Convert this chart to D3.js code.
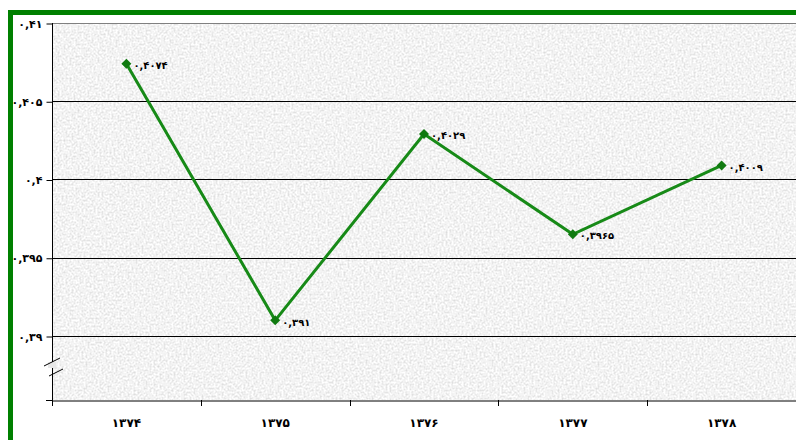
<!DOCTYPE html>
<html>
<head>
<meta charset="utf-8">
<script src="https://cdn.jsdelivr.net/npm/d3@7"></script>
<style>
  body { margin: 0; background: #fff; }
  svg { display: block; }
  text { font-family: "DejaVu Sans", Tahoma, sans-serif; font-weight: bold; fill: #000; }
</style>
</head>
<body>
<svg></svg>
<script>
let years = ['۱۳۷۴', '۱۳۷۵', '۱۳۷۶', '۱۳۷۷', '۱۳۷۸']
let values = [0.4074, 0.391, 0.4029, 0.3965, 0.4009]
let valueLabels = ['۰,۴۰۷۴', '۰,۳۹۱', '۰,۴۰۲۹', '۰,۳۹۶۵', '۰,۴۰۰۹']
let yTicks = [0.39, 0.395, 0.4, 0.405, 0.41]
let yTickLabels = ['۰,۳۹', '۰,۳۹۵', '۰,۴', '۰,۴۰۵', '۰,۴۱']

let width = 796
let height = 440
let plotLeft = 52
let plotRight = 796
let plotTop = 23
let plotBottom = 400
let lowest = 336   // where 0.39 sits, the break is below it

let svg = d3.select('svg').attr('width', width).attr('height', height)

// gray paper texture
let defs = svg.append('defs')
let filt = defs.append('filter').attr('id', 'paper').attr('x', 0).attr('y', 0).attr('width', '100%').attr('height', '100%')
filt.append('feTurbulence').attr('type', 'fractalNoise').attr('baseFrequency', 0.5).attr('numOctaves', 3).attr('seed', 4).attr('result', 'n')
filt.append('feColorMatrix').attr('in', 'n').attr('type', 'matrix')
    .attr('values', '0.55 0 0 0 0.62  0.55 0 0 0 0.62  0.55 0 0 0 0.62  0 0 0 0 1')

let xScale = d3.scaleBand().domain(years).range([plotLeft, plotRight]).padding(0)
let yScale = d3.scaleLinear().domain([0.39, 0.41]).range([lowest, plotTop])

svg.append('rect')
   .attr('x', plotLeft).attr('y', plotTop)
   .attr('width', plotRight - plotLeft).attr('height', plotBottom - plotTop)
   .attr('fill', '#e8e8e8')
   .attr('filter', 'url(#paper)')

svg.append('line')
   .attr('x1', plotLeft).attr('x2', plotRight).attr('y1', plotTop + 0.5).attr('y2', plotTop + 0.5)
   .attr('stroke', '#808080')

// grid lines
svg.selectAll('.grid')
   .data(yTicks.slice(0, 4))
   .enter()
   .append('line')
   .attr('class', 'grid')
   .attr('x1', plotLeft).attr('x2', plotRight)
   .attr('y1', (d) => Math.round(yScale(d)) + 0.5)
   .attr('y2', (d) => Math.round(yScale(d)) + 0.5)
   .attr('stroke', '#000')

// y axis
let yAxis = d3.axisLeft(yScale).tickValues(yTicks).tickSize(6).tickPadding(4)
              .tickFormat((d, i) => yTickLabels[i])
let yg = svg.append('g').attr('transform', 'translate(' + (plotLeft + 0.5) + ',0.5)').call(yAxis)
yg.select('.domain').remove()
yg.selectAll('text').style('font-size', '11px').attr('dy', '0.32em')
svg.append('line').attr('x1', plotLeft + 0.5).attr('x2', plotLeft + 0.5).attr('y1', plotTop).attr('y2', plotBottom)
   .attr('stroke', '#000')
svg.append('line').attr('x1', plotLeft - 6).attr('x2', plotLeft).attr('y1', plotBottom + 0.5).attr('y2', plotBottom + 0.5)
   .attr('stroke', '#000')

// axis break marks
let brk = svg.append('g')
brk.append('rect').attr('x', plotLeft - 4).attr('y', 362).attr('width', 8).attr('height', 6).attr('fill', '#e8e8e8')
brk.append('line').attr('x1', 44).attr('y1', 366).attr('x2', 60).attr('y2', 358).attr('stroke', '#000')
brk.append('line').attr('x1', 49).attr('y1', 376).attr('x2', 63).attr('y2', 369).attr('stroke', '#000')

// x axis
let xAxis = d3.axisBottom(xScale).tickSize(0).tickPadding(18)
let xg = svg.append('g').attr('transform', 'translate(0,' + (plotBottom + 0.5) + ')').call(xAxis)
xg.select('.domain').attr('stroke', '#000')
xg.selectAll('text').style('font-size', '12px')
svg.selectAll('.xtick')
   .data(years.concat(['end']))
   .enter()
   .append('line')
   .attr('class', 'xtick')
   .attr('x1', (d, i) => Math.round(plotLeft + i * xScale.bandwidth()) + 0.5)
   .attr('x2', (d, i) => Math.round(plotLeft + i * xScale.bandwidth()) + 0.5)
   .attr('y1', plotBottom).attr('y2', plotBottom + 6)
   .attr('stroke', '#000')

// line and markers
let cx = (d, i) => xScale(years[i]) + xScale.bandwidth() / 2
let line = d3.line().x((d, i) => cx(d, i)).y((d) => yScale(d))
svg.append('path')
   .datum(values)
   .attr('d', line)
   .attr('fill', 'none')
   .attr('stroke', '#178a17')
   .attr('stroke-width', 3)
   .attr('stroke-linejoin', 'miter')

svg.selectAll('.pt')
   .data(values)
   .enter()
   .append('path')
   .attr('class', 'pt')
   .attr('d', 'M0,-5L5,0L0,5L-5,0Z')
   .attr('transform', (d, i) => 'translate(' + cx(d, i) + ',' + yScale(d) + ')')
   .attr('fill', '#107a10')

svg.selectAll('.lbl')
   .data(values)
   .enter()
   .append('text')
   .attr('class', 'lbl')
   .attr('x', (d, i) => cx(d, i) + 7)
   .attr('y', (d) => yScale(d) + 2)
   .attr('dy', '0.32em')
   .style('font-size', '10px')
   .text((d, i) => valueLabels[i])

// green frame
svg.append('rect').attr('x', 8).attr('y', 10).attr('width', 5).attr('height', height - 10).attr('fill', '#008000')
svg.append('rect').attr('x', 8).attr('y', 10).attr('width', width - 8).attr('height', 5).attr('fill', '#008000')
</script>
</body>
</html>
